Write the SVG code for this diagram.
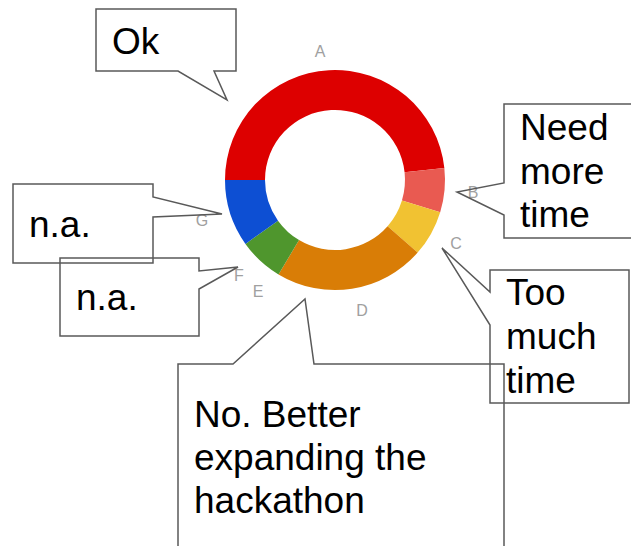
<svg xmlns="http://www.w3.org/2000/svg" width="631" height="546" viewBox="0 0 631 546">
<style>
.lbl{font-family:"Liberation Sans",Arial,sans-serif;font-size:16px;fill:#a0a0a0;text-anchor:middle}
.txt{font-family:"Liberation Sans",Arial,sans-serif;font-size:37px;fill:#000}
.co{fill:none;stroke:#595959;stroke-width:1.5;stroke-linejoin:miter}
</style>
<rect width="631" height="546" fill="#fff"/>
<g id="chart">
<path id="sliceA" fill="#dd0000" d="M225,180 A110,110 0 0 1 444.34,167.93 L404.58,172.32 A70,70 0 0 0 265,180 Z"/>
<path id="sliceB" fill="#e95a51" d="M444.34,167.93 A110,110 0 0 1 440.19,212.16 L401.94,200.47 A70,70 0 0 0 404.58,172.32 Z"/>
<path id="sliceC" fill="#f1c232" d="M440.19,212.16 A110,110 0 0 1 417.62,252.62 L387.58,226.21 A70,70 0 0 0 401.94,200.47 Z"/>
<path id="sliceD" fill="#d97d06" d="M417.62,252.62 A110,110 0 0 1 278.51,274.39 L299.05,240.06 A70,70 0 0 0 387.58,226.21 Z"/>
<path id="sliceE" fill="#4f962d" d="M278.51,274.39 A110,110 0 0 1 245.45,243.88 L278.01,220.65 A70,70 0 0 0 299.05,240.06 Z"/>
<path id="sliceG" fill="#0d4fd3" d="M245.45,243.88 A110,110 0 0 1 225,180 L265,180 A70,70 0 0 0 278.01,220.65 Z"/>
<text class="lbl" x="320" y="57">A</text>
<text class="lbl" x="473" y="198">B</text>
<text class="lbl" x="456" y="249">C</text>
<text class="lbl" x="362" y="316">D</text>
<text class="lbl" x="258" y="297">E</text>
<text class="lbl" x="239" y="281">F</text>
<text class="lbl" x="202" y="226">G</text>
</g>
<g id="connectors"></g>
<g id="callout-ok">
<path class="co" d="M96,9 H236 V71 H214 L227,100 L178,71 H96 Z"/>
<text class="txt" x="112" y="54">Ok</text>
</g>
<g id="callout-need">
<path class="co" d="M640,104 H504 V183 L457,192 L504,215 V238 H640"/>
<text class="txt"><tspan x="520" y="140">Need</tspan><tspan x="520" y="183.5">more</tspan><tspan x="520" y="227">time</tspan></text>
</g>
<g id="callout-g">
<path class="co" d="M13,184 H153 V197 L222,214 L153,217 V263 H13 Z"/>
<text class="txt" x="29" y="237">n.a.</text>
</g>
<g id="callout-f">
<path class="co" d="M60,258 H199 V271 L238,267 L199,289 V336 H60 Z"/>
<text class="txt" x="76" y="310">n.a.</text>
</g>
<g id="callout-too">
<path class="co" d="M490,270 H629 V403 H490 V325 L442,248 L490,292 Z"/>
<text class="txt"><tspan x="506" y="305">Too</tspan><tspan x="506" y="349">much</tspan><tspan x="506" y="393">time</tspan></text>
</g>
<g id="callout-no">
<path class="co" d="M178,560 V364 H233 L305,299 L314,364 H504 V560"/>
<text class="txt"><tspan x="194" y="427">No. Better</tspan><tspan x="194" y="470">expanding the</tspan><tspan x="194" y="513">hackathon</tspan></text>
</g>
</svg>
